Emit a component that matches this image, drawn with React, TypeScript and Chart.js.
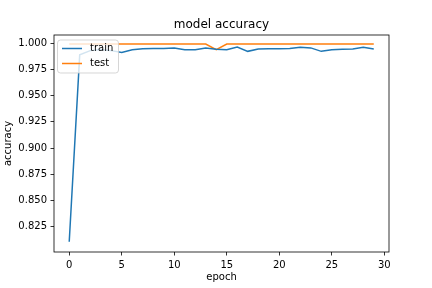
import { useEffect, useRef } from "react";
import { Chart, registerables } from "chart.js";

Chart.register(...registerables);

const epochs = [
  0, 1, 2, 3, 4, 5, 6, 7, 8, 9, 10, 11, 12, 13, 14, 15, 16, 17, 18, 19, 20, 21,
  22, 23, 24, 25, 26, 27, 28, 29,
];
const trainAcc = [
  0.8107, 0.989, 0.993, 0.994, 0.993, 0.9912, 0.9938, 0.9948, 0.9951, 0.9951,
  0.9955, 0.9938, 0.9938, 0.9955, 0.9942, 0.9938, 0.9964, 0.9923, 0.9946,
  0.9948, 0.9948, 0.9951, 0.9961, 0.9956, 0.9923, 0.9938, 0.9942, 0.9946,
  0.9961, 0.9946,
];
const testAcc = [
  0.9993, 0.9993, 0.9993, 0.9993, 0.9993, 0.9993, 0.9993, 0.9993, 0.9993,
  0.9993, 0.9993, 0.9993, 0.9993, 0.9993, 0.9939, 0.9993, 0.9993, 0.9993,
  0.9993, 0.9993, 0.9993, 0.9993, 0.9993, 0.9993, 0.9993, 0.9993, 0.9993,
  0.9993, 0.9993, 0.9993,
];
const xTicks = [0, 5, 10, 15, 20, 25, 30];
const yTicks = [0.825, 0.85, 0.875, 0.9, 0.925, 0.95, 0.975, 1.0];
const seriesNames = ["train", "test"];
const seriesColors = ["#1f77b4", "#ff7f0e"];

const FONT = "DejaVu Sans";

const framePlugin = {
  id: "frameAndLegend",
  afterDatasetsDraw(chart: any) {
    const { ctx, chartArea } = chart;
    const { left, right, top, bottom } = chartArea;
    ctx.save();
    // spines
    ctx.strokeStyle = "#000";
    ctx.lineWidth = 0.8;
    ctx.strokeRect(left, top, right - left, bottom - top);

    // legend
    const bx = left + 3.5;
    const by = top + 5;
    const bw = 61;
    const bh = 33;
    const r = 3;
    ctx.beginPath();
    ctx.moveTo(bx + r, by);
    ctx.lineTo(bx + bw - r, by);
    ctx.arcTo(bx + bw, by, bx + bw, by + r, r);
    ctx.lineTo(bx + bw, by + bh - r);
    ctx.arcTo(bx + bw, by + bh, bx + bw - r, by + bh, r);
    ctx.lineTo(bx + r, by + bh);
    ctx.arcTo(bx, by + bh, bx, by + bh - r, r);
    ctx.lineTo(bx, by + r);
    ctx.arcTo(bx, by, bx + r, by, r);
    ctx.closePath();
    ctx.fillStyle = "rgba(255,255,255,0.8)";
    ctx.fill();
    ctx.strokeStyle = "rgba(204,204,204,0.8)";
    ctx.lineWidth = 1;
    ctx.stroke();

    const datasets = chart.data.datasets;
    datasets.forEach((ds: any, i: number) => {
      const y = by + 8.5 + i * 15;
      ctx.beginPath();
      ctx.strokeStyle = ds.borderColor;
      ctx.lineWidth = 1.5;
      ctx.moveTo(bx + 4.5, y);
      ctx.lineTo(bx + 24.5, y);
      ctx.stroke();
      ctx.fillStyle = "#000";
      ctx.font = `10px "${FONT}"`;
      ctx.textBaseline = "middle";
      ctx.textAlign = "left";
      ctx.fillText(ds.label, bx + 32.5, y);
    });
    ctx.restore();
  },
};

export default function App() {
  const ref = useRef<HTMLCanvasElement | null>(null);

  useEffect(() => {
    if (!ref.current) return;
    const tickFont = { family: FONT, size: 10, lineHeight: 1.2 };
    const chart = new Chart(ref.current, {
      type: "line",
      data: {
        datasets: [
          {
            label: seriesNames[0],
            data: epochs.map((e, i) => ({ x: e, y: trainAcc[i] })),
            borderColor: seriesColors[0],
            backgroundColor: seriesColors[0],
            borderWidth: 1.5,
            pointRadius: 0,
            tension: 0,
          },
          {
            label: seriesNames[1],
            data: epochs.map((e, i) => ({ x: e, y: testAcc[i] })),
            borderColor: seriesColors[1],
            backgroundColor: seriesColors[1],
            borderWidth: 1.5,
            pointRadius: 0,
            tension: 0,
          },
        ],
      },
      options: {
        responsive: false,
        animation: false,
        devicePixelRatio: 1,
        events: [],
        layout: { padding: { left: 0, right: 43, top: 0, bottom: 0 } },
        plugins: {
          legend: { display: false },
          tooltip: { enabled: false },
          title: {
            display: true,
            text: "model accuracy",
            fullSize: false,
            color: "#000",
            font: { family: FONT, size: 12, weight: "normal", lineHeight: 1.2 },
            padding: { top: 17.3, bottom: 3.3 },
          },
        },
        scales: {
          x: {
            type: "linear",
            min: -1.45,
            max: 30.45,
            afterFit: (s: any) => {
              s.height = 36;
            },
            afterBuildTicks: (s: any) => {
              s.ticks = xTicks.map((v) => ({ value: v }));
            },
            ticks: {
              color: "#000",
              font: tickFont,
              padding: 3.5,
              maxRotation: 0,
              autoSkip: false,
              callback: (v: any) => String(v),
            },
            grid: {
              drawOnChartArea: false,
              drawTicks: true,
              tickLength: 3.5,
              color: "#000",
              lineWidth: 0.8,
            },
            border: { display: false },
            title: {
              display: true,
              text: "epoch",
              color: "#000",
              font: tickFont,
              padding: { top: 0, bottom: 5 },
            },
          },
          y: {
            type: "linear",
            min: 0.8009,
            max: 1.0079,
            afterFit: (s: any) => {
              s.width = 54;
            },
            afterBuildTicks: (s: any) => {
              s.ticks = yTicks.map((v) => ({ value: v }));
            },
            ticks: {
              color: "#000",
              font: tickFont,
              padding: 3.5,
              autoSkip: false,
              callback: (v: any) => Number(v).toFixed(3),
            },
            grid: {
              drawOnChartArea: false,
              drawTicks: true,
              tickLength: 3.5,
              color: "#000",
              lineWidth: 0.8,
            },
            border: { display: false },
            title: {
              display: true,
              text: "accuracy",
              color: "#000",
              font: tickFont,
              padding: { top: 2.7, bottom: 0 },
            },
          },
        },
      },
      plugins: [framePlugin],
    } as any);
    return () => chart.destroy();
  }, []);

  return (
    <div style={{ position: "absolute", left: 0, top: 0, width: 432, height: 288 }}>
      <canvas ref={ref} width={432} height={288} style={{ display: "block" }} />
    </div>
  );
}
